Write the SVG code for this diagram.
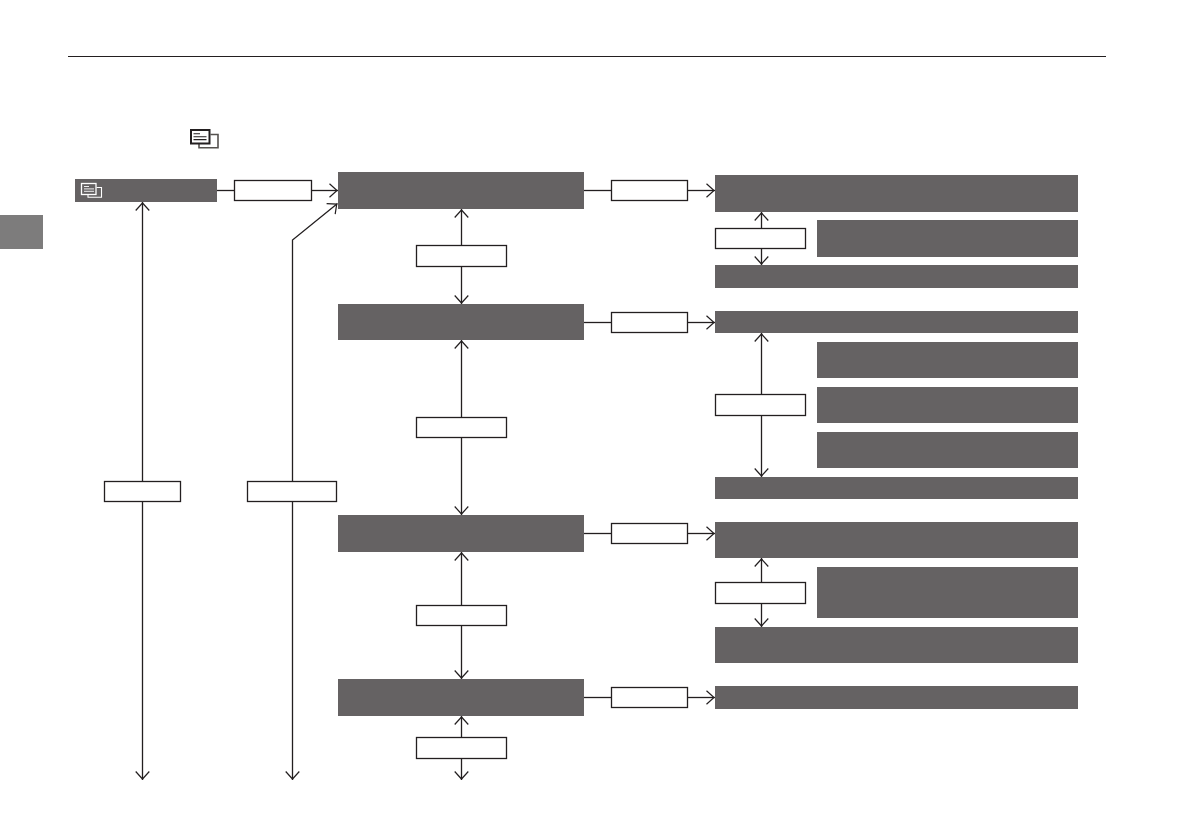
<svg xmlns="http://www.w3.org/2000/svg" width="1191" height="839" viewBox="0 0 1191 839">
<defs>
<marker id="a" markerUnits="userSpaceOnUse" markerWidth="16" markerHeight="16" refX="14" refY="8" orient="auto-start-reverse"><path d="M5.500 1.200 L13 8 L5.500 14.800" fill="none" stroke="#231f20" stroke-width="1.200"/></marker>
</defs>
<style>
.d{fill:#656263}
.b{fill:#fff;stroke:#231f20;stroke-width:1.300}
.l{fill:none;stroke:#231f20;stroke-width:1.300}
.e{marker-end:url(#a)}
.s{marker-start:url(#a)}
</style>
<rect width="1191" height="839" fill="#fff"/>
<path d="M68 56.500H1106" stroke="#231f20" stroke-width="1"/>
<rect x="0" y="215" width="43" height="34" fill="#7d7c7c"/>
<g id="header-icon" fill="none">
<path d="M210.500 134.500H218V147.700H199V144" stroke="#55524f" stroke-width="1.600"/>
<rect x="191" y="130" width="18.500" height="13.500" fill="#fff" stroke="#231f20" stroke-width="2"/>
<path d="M193.500 133.800H200M193.500 136.700H206.500M193.500 139.600H206.500" stroke="#231f20" stroke-width="1.100"/>
</g>
<g id="n-main"><rect class="d" x="75" y="179" width="142" height="23"/>
<g fill="none" stroke="#fff"><path d="M96.500 187.500H101.500V197.200H88V194.500" stroke-width="1.100"/><rect x="81.500" y="183.500" width="14.500" height="11" stroke-width="1.300"/><path d="M84 186.500H89M84 188.900H94M84 191.300H94" stroke-width=".9"/></g></g>
<g id="n-a1"><rect class="d" x="338" y="172" width="246" height="37"/></g>
<g id="n-a2"><rect class="d" x="338" y="304" width="246" height="36"/></g>
<g id="n-a3"><rect class="d" x="338" y="515" width="246" height="37"/></g>
<g id="n-a4"><rect class="d" x="338" y="679" width="246" height="37"/></g>
<g id="n-r1"><rect class="d" x="715" y="175" width="363" height="37"/></g>
<g id="n-r2"><rect class="d" x="817" y="220" width="261" height="37"/></g>
<g id="n-r3"><rect class="d" x="715" y="265" width="363" height="23"/></g>
<g id="n-r4"><rect class="d" x="715" y="311" width="363" height="22"/></g>
<g id="n-r5"><rect class="d" x="817" y="342" width="261" height="36"/></g>
<g id="n-r6"><rect class="d" x="817" y="387" width="261" height="36"/></g>
<g id="n-r7"><rect class="d" x="817" y="432" width="261" height="36"/></g>
<g id="n-r8"><rect class="d" x="715" y="477" width="363" height="22"/></g>
<g id="n-r9"><rect class="d" x="715" y="522" width="363" height="36"/></g>
<g id="n-r10"><rect class="d" x="817" y="567" width="261" height="51"/></g>
<g id="n-r11"><rect class="d" x="715" y="627" width="363" height="36"/></g>
<g id="n-r12"><rect class="d" x="715" y="686" width="363" height="23"/></g>
<g id="connectors">
<path class="l" d="M217 190.500H234"/><path class="l e" d="M311 190.500H338"/>
<path class="l s" d="M142.500 202V481"/><path class="l e" d="M142.500 501V780"/>
<path class="l e" d="M292.500 481V240L337.500 203.500"/><path class="l e" d="M292.500 501V780"/>
<path class="l s" d="M461.500 209V245"/><path class="l e" d="M461.500 266V304"/>
<path class="l s" d="M461.500 340V417"/><path class="l e" d="M461.500 437V515"/>
<path class="l s" d="M461.500 552V605"/><path class="l e" d="M461.500 625V679"/>
<path class="l s" d="M461.500 716V737"/><path class="l e" d="M461.500 758V780"/>
<path class="l" d="M584 190.500H611"/><path class="l e" d="M688 190.500H715"/>
<path class="l" d="M584 322.500H611"/><path class="l e" d="M688 322.500H715"/>
<path class="l" d="M584 533.500H611"/><path class="l e" d="M688 533.500H715"/>
<path class="l" d="M584 697.500H611"/><path class="l e" d="M688 697.500H715"/>
<path class="l s" d="M761.500 212V228"/><path class="l e" d="M761.500 249V265"/>
<path class="l s" d="M761.500 333V394"/><path class="l e" d="M761.500 415V477"/>
<path class="l s" d="M761.500 558V582"/><path class="l e" d="M761.500 603V627"/>
</g>
<g id="labels">
<rect class="b" x="234.500" y="180.500" width="77" height="20"/>
<rect class="b" x="611.500" y="180.500" width="76" height="20"/>
<rect class="b" x="611.500" y="312.500" width="76" height="20"/>
<rect class="b" x="611.500" y="523.500" width="76" height="20"/>
<rect class="b" x="611.500" y="687.500" width="76" height="20"/>
<rect class="b" x="715.500" y="228.500" width="90" height="20"/>
<rect class="b" x="715.500" y="394.500" width="90" height="21"/>
<rect class="b" x="715.500" y="582.500" width="90" height="21"/>
<rect class="b" x="416.500" y="245.500" width="90" height="21"/>
<rect class="b" x="416.500" y="417.500" width="90" height="20"/>
<rect class="b" x="416.500" y="605.500" width="90" height="20"/>
<rect class="b" x="416.500" y="737.500" width="90" height="21"/>
<rect class="b" x="104.500" y="481.500" width="76" height="20"/>
<rect class="b" x="247.500" y="481.500" width="89" height="20"/>
</g>
</svg>
